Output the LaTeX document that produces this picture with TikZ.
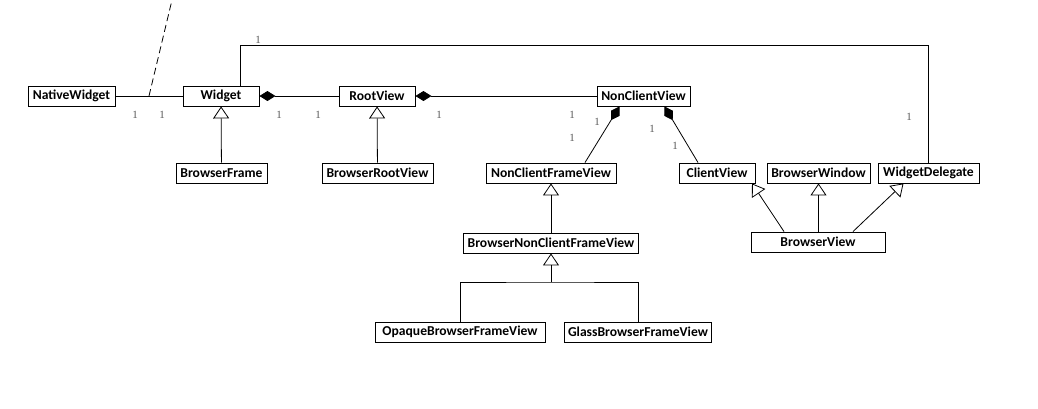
\documentclass[tikz,border=0pt]{standalone}
\usepackage{fontspec}
\setmainfont{Carlito}
\newfontfamily\numfont{Liberation Serif}
\usepackage{tikz}
\usetikzlibrary{arrows.meta}
\definecolor{label gray}{rgb}{0.35, 0.35, 0.35}

\begin{document}
\begin{tikzpicture}[x=1pt, y=-1pt, line width=0.8pt,
		class/.style={draw, line width=0.9pt, minimum height=20pt, inner sep=0pt, font=\fontsize{13.6}{15}\selectfont\bfseries},
		inherit/.style={-{Triangle[open, length=12pt, width=16pt]}},
		owns/.style={{Diamond[length=16pt, width=10pt]}-},
		owned/.style={-{Diamond[length=16pt, width=10pt]}},
		mult/.style={text=label gray, inner sep=0pt, font=\numfont\fontsize{11}{11}\selectfont}]
			\useasboundingbox (0, 0) rectangle (1038, 408);
			% classes
			\node[class, minimum width=87pt] (nw) at (71.5, 96) {NativeWidget};
			\node[class, minimum width=76pt] (w) at (221, 96) {Widget};
			\node[class, minimum width=76pt] (rv) at (377, 96) {RootView};
			\node[class, minimum width=93pt] (ncv) at (643.5, 96) {NonClientView};
			\node[class, minimum width=91pt] (bf) at (221.5, 173) {BrowserFrame};
			\node[class, minimum width=111pt] (brv) at (377.5, 173) {BrowserRootView};
			\node[class, minimum width=130pt] (ncfv) at (551, 173) {NonClientFrameView};
			\node[class, minimum width=76pt] (cv) at (717, 173) {ClientView};
			\node[class, minimum width=103pt] (bw) at (818.5, 173) {BrowserWindow};
			\node[class, minimum width=101pt] (wd) at (928.5, 173) {WidgetDelegate};
			\node[class, minimum width=134pt] (bv) at (818, 242) {BrowserView};
			\node[class, minimum width=175pt] (bncfv) at (551, 243) {BrowserNonClientFrameView};
			\node[class, minimum width=170pt] (obfv) at (460, 332) {OpaqueBrowserFrameView};
			\node[class, minimum width=147pt] (gbfv) at (638, 332) {GlassBrowserFrameView};
			% associations
			\draw (nw) -- (w);
			\coordinate (dash foot) at (149, 96);
			\coordinate (dash top) at (172, 0);
			\draw[dash pattern=on 7pt off 4pt] (dash foot) -- (dash top);
			\draw (w.north) ++(19, 0) -- ++(0, -40) -| (wd.north);
			\draw[owns] (w) -- (rv);
			\draw[owns] (rv) -- (ncv);
			\draw[owned] ([xshift=34]ncfv.north) -- ([xshift=-24]ncv.south);
			\draw[owned] ([xshift=-19]cv.north) -- ([xshift=21]ncv.south);
			% generalizations
			\draw[inherit] (bf) -- (w);
			\draw[inherit] (brv) -- (rv);
			\draw[inherit] (bncfv) -- (ncfv);
			\coordinate (split) at (551, 282);
			\draw (obfv.north) |- (split) -| (gbfv.north);
			\draw[inherit] (split) -- (bncfv.south);
			\draw[inherit] ([xshift=-34]bv.north) -- ([xshift=35]cv.south);
			\draw[inherit] (bv.north -| bw.south) -- (bw.south);
			\draw[inherit] ([xshift=35]bv.north) -- ([xshift=-25]wd.south);
			% multiplicities
			\foreach \x/\y [count=\i] in {258/40, 135/115, 162/115, 279/115, 318/115, 439/115,
					572/115, 572/138, 597/122, 652/129, 675/146, 909/117}
				\node[mult] (m\i) at (\x, \y) {1};
		\end{tikzpicture}
\end{document}
